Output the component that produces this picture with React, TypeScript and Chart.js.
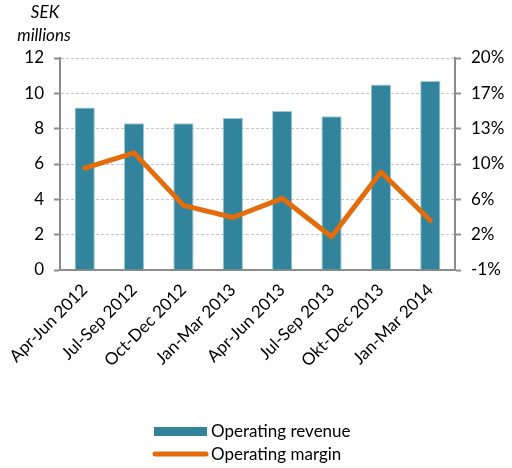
import React, { useEffect, useRef } from "react";
import { Chart, registerables } from "chart.js";

Chart.register(...registerables);

const categories = [
  "Apr-Jun 2012",
  "Jul-Sep 2012",
  "Oct-Dec 2012",
  "Jan-Mar 2013",
  "Apr-Jun 2013",
  "Jul-Sep 2013",
  "Okt-Dec 2013",
  "Jan-Mar 2014",
];
const operatingRevenue = [9.2, 8.3, 8.3, 8.6, 9.0, 8.7, 10.5, 10.7];
const operatingMargin = [9.1, 10.6, 5.4, 4.2, 6.1, 2.3, 8.7, 3.9];
const rightTickLabels = ["-1%", "2%", "6%", "10%", "13%", "17%", "20%"];
const titleLines = ["SEK", "millions"];

const FONT = "Lato, 'Open Sans', sans-serif";
const BAR_COLOR = "#31849B";
const LINE_COLOR = "#E46C0A";
const AXIS_COLOR = "#8C8C8C";

export default function App() {
  const ref = useRef<HTMLCanvasElement>(null);

  useEffect(() => {
    if (!ref.current) return;
    const overlay = {
      id: "overlay",
      afterDraw(chart: any) {
        const ctx = chart.ctx;
        ctx.save();
        ctx.fillStyle = "#000";
        ctx.font = `italic 17px ${FONT}`;
        ctx.textAlign = "center";
        ctx.textBaseline = "middle";
        ctx.fillText(titleLines[0], 45, 13);
        ctx.fillText(titleLines[1], 44, 36);
        const ds = chart.data.datasets;
        const barDs = ds.find((d: any) => d.type === "bar");
        const lineDs = ds.find((d: any) => d.type === "line");
        ctx.font = `17px ${FONT}`;
        ctx.textAlign = "left";
        ctx.fillStyle = BAR_COLOR;
        ctx.fillRect(154, 427, 53, 9);
        ctx.strokeStyle = LINE_COLOR;
        ctx.lineWidth = 5;
        ctx.lineCap = "round";
        ctx.beginPath();
        ctx.moveTo(155, 454);
        ctx.lineTo(206, 454);
        ctx.stroke();
        ctx.fillStyle = "#000";
        ctx.fillText(barDs.label, 211, 432);
        ctx.fillText(lineDs.label, 211, 455);
        ctx.restore();
      },
    };

    const chart = new Chart(ref.current, {
      type: "bar",
      data: {
        labels: categories,
        datasets: [
          {
            type: "line",
            label: "Operating margin",
            data: operatingMargin,
            yAxisID: "y1",
            borderColor: LINE_COLOR,
            backgroundColor: LINE_COLOR,
            borderWidth: 5,
            pointRadius: 0,
            borderCapStyle: "round",
            borderJoinStyle: "round",
            tension: 0,
            order: 0,
          } as any,
          {
            type: "bar",
            label: "Operating revenue",
            data: operatingRevenue,
            yAxisID: "y",
            backgroundColor: BAR_COLOR,
            borderColor: "#9CCAD6",
            borderWidth: 1,
            categoryPercentage: 1,
            barPercentage: 0.41,
            order: 1,
          },
        ],
      },
      options: {
        responsive: false,
        animation: false,
        layout: { padding: { top: 58, left: 0, right: 0, bottom: 0 } },
        plugins: {
          legend: { display: false },
          tooltip: { enabled: false },
        },
        scales: {
          x: {
            grid: { display: false },
            border: { display: true, color: AXIS_COLOR, width: 2 },
            ticks: {
              color: "#000",
              font: { family: FONT, size: 17 },
              maxRotation: 45,
              minRotation: 45,
              autoSkip: false,
              padding: 2,
            },
            afterFit(scale: any) {
              scale.height = 198;
            },
          },
          y: {
            position: "left",
            min: 0,
            max: 12,
            ticks: {
              stepSize: 2,
              color: "#000",
              font: { family: FONT, size: 17 },
              padding: 10,
            },
            grid: {
              color: "#C4C4C4",
              tickColor: AXIS_COLOR,
              tickLength: 6,
              tickWidth: 2,
              tickBorderDash: [],
              lineWidth: 1,
            },
            border: { display: true, color: AXIS_COLOR, width: 2, dash: [3, 2] },
            afterFit(scale: any) {
              scale.width = 60;
            },
          },
          y1: {
            position: "right",
            min: -1,
            max: 20,
            ticks: {
              stepSize: 3.5,
              color: "#000",
              font: { family: FONT, size: 17 },
              padding: 10,
              callback: (_v: any, i: number) => rightTickLabels[i],
            },
            grid: {
              drawOnChartArea: false,
              tickColor: AXIS_COLOR,
              tickLength: 6,
              tickWidth: 2,
            },
            border: { display: true, color: AXIS_COLOR, width: 2 },
            afterFit(scale: any) {
              scale.width = 57;
            },
          },
        },
      },
      plugins: [overlay],
    });
    return () => chart.destroy();
  }, []);

  return (
    <div style={{ position: "absolute", left: 0, top: 0, width: 512, height: 468, background: "#fff" }}>
      <canvas ref={ref} width={512} height={468} style={{ display: "block" }} />
    </div>
  );
}
